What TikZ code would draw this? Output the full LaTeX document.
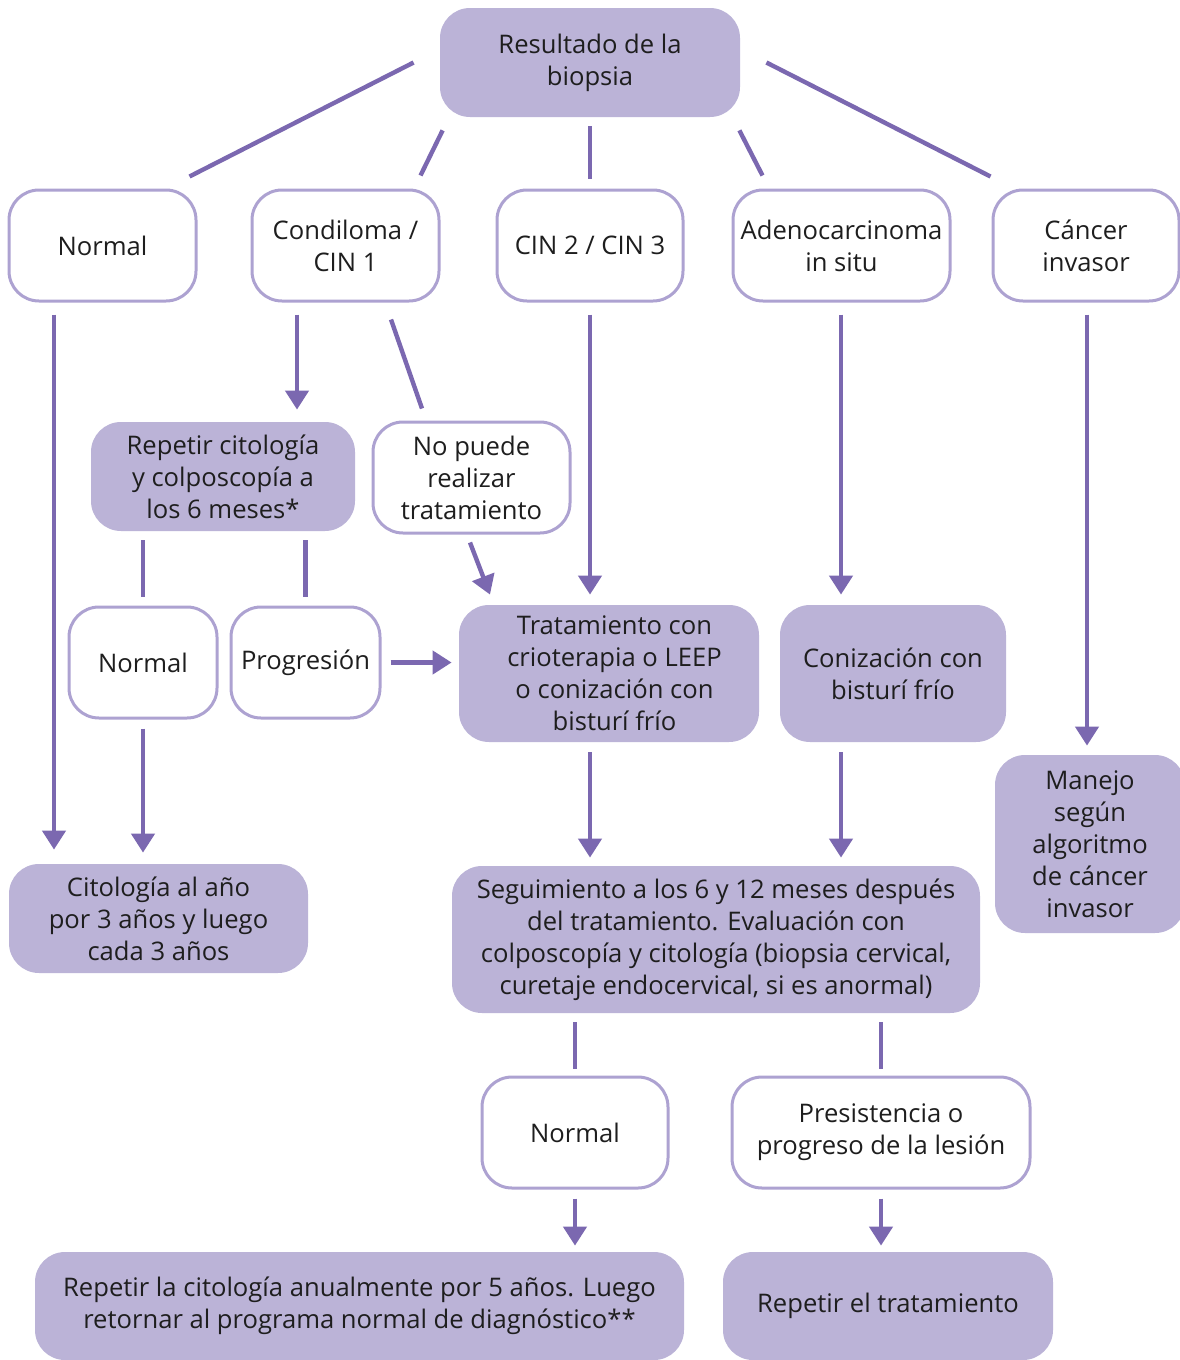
\documentclass[tikz,border=0pt]{standalone}
\usepackage{fontspec}
\setmainfont{Open Sans}
\usetikzlibrary{arrows.meta}
\definecolor{boxfill}{RGB}{187,179,215}
\definecolor{boxline}{RGB}{173,162,209}
\definecolor{connc}{RGB}{123,104,176}
\definecolor{txt}{RGB}{30,30,30}
\tikzset{
  base/.style={rounded corners=15pt, align=center, text=txt, font=\fontsize{12.8}{16}\selectfont, inner sep=0pt},
  filledbox/.style={base, fill=boxfill},
  plainbox/.style={base, draw=boxline, line width=1.5pt, fill=white},
  ln/.style={draw=connc, line width=2.2pt},
  arr/.style={ln, -{Triangle[width=11.5pt,length=9.5pt]}},
}
\begin{document}
\begin{tikzpicture}[x=0.5pt,y=-0.5pt]
\useasboundingbox (0,0) rectangle (1179,1360);
% nodes
\node[filledbox, minimum width=150pt, minimum height=54.5pt] (top) at (590,62.5) {Resultado de la\\biopsia};
\node[plainbox, minimum width=93.5pt, minimum height=55.5pt] (n1) at (102.5,245.5) {Normal};
\node[plainbox, minimum width=93.5pt, minimum height=55.5pt] (cond) at (345.5,245.5) {Condiloma /\\CIN 1};
\node[plainbox, minimum width=93pt, minimum height=55.5pt] (cin) at (590,245.5) {CIN 2 / CIN 3};
\node[plainbox, minimum width=108.5pt, minimum height=55.5pt] (adeno) at (841.5,245.5) {Adenocarcinoma\\in situ};
\node[plainbox, minimum width=93pt, minimum height=55.5pt] (canc) at (1086,245.5) {Cáncer\\invasor};
\node[filledbox, minimum width=132pt, minimum height=54.5pt] (rep) at (223,476.5) {Repetir citología\\y colposcopía a\\los 6 meses*};
\node[plainbox, minimum width=98.5pt, minimum height=55.5pt] (nop) at (471.5,477.5) {No puede\\realizar\\tratamiento};
\node[plainbox, minimum width=74pt, minimum height=55.5pt] (n2) at (143,662.5) {Normal};
\node[plainbox, minimum width=74.5pt, minimum height=55.5pt] (prog) at (305.5,662.5) {Progresión};
\node[filledbox, minimum width=150pt, minimum height=68.5pt] (trat) at (609,673.5) {\hspace*{5.5pt}Tratamiento con\\\hspace*{5.5pt}crioterapia o LEEP\\\hspace*{5.5pt}o conización con\\\hspace*{5.5pt}bisturí frío};
\node[filledbox, minimum width=113pt, minimum height=68.5pt] (con) at (893,673.5) {Conización con\\bisturí frío};
\node[filledbox, minimum width=95pt, minimum height=89pt] (man) at (1090,844) {Manejo\\según\\algoritmo\\de cáncer\\invasor};
\node[filledbox, minimum width=149.5pt, minimum height=54.5pt] (cit) at (158.5,918.5) {Citología al año\\por 3 años y luego\\cada 3 años};
\node[filledbox, minimum width=264pt, minimum height=73.5pt] (seg) at (716,939.5) {Seguimiento a los 6 y 12 meses después\\del tratamiento. Evaluación con\\colposcopía y citología (biopsia cervical,\\curetaje endocervical, si es anormal)};
\node[plainbox, minimum width=93pt, minimum height=55.5pt] (n3) at (575,1132.5) {Normal};
\node[plainbox, minimum width=149pt, minimum height=55.5pt] (pres) at (881,1132.5) {Presistencia o\\progreso de la lesión};
\node[filledbox, minimum width=324.5pt, minimum height=54pt] (rep5) at (359.5,1306) {Repetir la citología anualmente por 5 años. Luego\\retornar al programa normal de diagnóstico**};
\node[filledbox, minimum width=165pt, minimum height=54pt] (rept) at (888,1306) {Repetir el tratamiento};
% connectors from top
\draw[ln] ([xshift=-13pt]top.west) -- ([xshift=-4pt,yshift=6pt]n1.north east);
\draw[ln] ([xshift=1.5pt,yshift=-6.5pt]top.south west) -- ([xshift=-10pt,yshift=6.5pt]cond.north east);
\draw[ln] ([yshift=-4.5pt]top.south) -- ([yshift=5pt]cin.north);
\draw[ln] ([xshift=-0.5pt,yshift=-6.5pt]top.south east) -- ([xshift=15.5pt,yshift=6.5pt]adeno.north west);
\draw[ln] ([xshift=13pt]top.east) -- ([xshift=-0.5pt,yshift=6pt]canc.north west);
% second level
\draw[arr] ([xshift=-24.25pt,yshift=-6pt]n1.south) -- ([xshift=-52.25pt,yshift=7pt]cit.north);
\draw[arr] ([xshift=-24.25pt,yshift=-6pt]cond.south) -- ([xshift=37pt,yshift=6pt]rep.north);
\draw[ln] ([xshift=22.75pt,yshift=-8.5pt]cond.south) -- ([xshift=-24.75pt,yshift=6pt]nop.north);
\draw[arr] ([xshift=-0.75pt,yshift=-4pt]nop.south) -- ([xshift=-59.5pt,yshift=5pt]trat.north);
\draw[arr] ([yshift=-6pt]cin.south) -- ([xshift=-9.5pt,yshift=5pt]trat.north);
\draw[arr] ([xshift=-0.25pt,yshift=-6pt]adeno.south) -- ([xshift=-26pt,yshift=5pt]con.north);
\draw[arr] ([xshift=0.5pt,yshift=-6pt]canc.south) -- ([xshift=-1.5pt,yshift=4.5pt]man.north);
\draw[ln] ([xshift=-40pt,yshift=-4.5pt]rep.south) -- ([yshift=4.5pt]n2.north);
\draw[ln] ([xshift=41.25pt,yshift=-4.5pt]rep.south) -- ([yshift=4.5pt]prog.north);
\draw[arr, shorten <=4.5pt, shorten >=3.5pt] (prog.east) -- (prog.east -| trat.west);
\draw[arr, shorten <=4.5pt, shorten >=5.5pt] (n2.south) -- (n2.south |- cit.north);
\draw[arr] ([xshift=-9.5pt,yshift=-5pt]trat.south) -- ([xshift=-63pt,yshift=4pt]seg.north);
\draw[arr] ([xshift=-26pt,yshift=-5pt]con.south) -- ([xshift=62.5pt,yshift=4pt]seg.north);
\draw[ln] ([xshift=-70.5pt,yshift=-4.5pt]seg.south) -- ([yshift=3.5pt]n3.north);
\draw[ln] ([xshift=82.5pt,yshift=-4.5pt]seg.south) -- ([yshift=3.5pt]pres.north);
\draw[arr, shorten <=4.5pt, shorten >=3pt] (n3.south) -- (n3.south |- rep5.north);
\draw[arr, shorten <=4.5pt, shorten >=3pt] (pres.south) -- (pres.south |- rept.north);
\end{tikzpicture}
\end{document}
